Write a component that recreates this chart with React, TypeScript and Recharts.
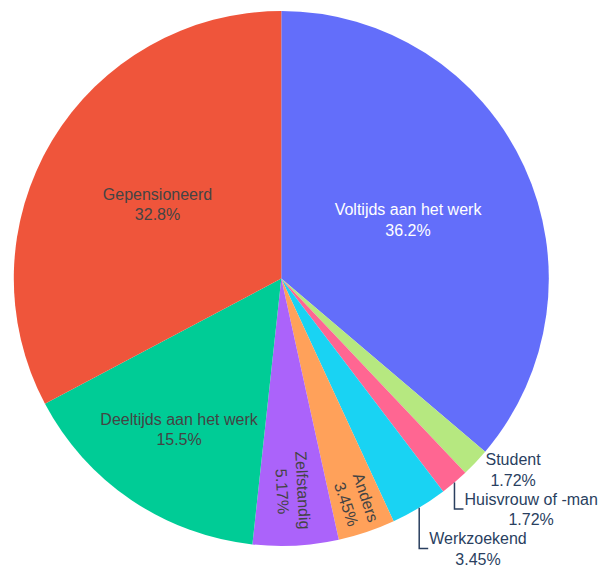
import { Cell, Pie, PieChart } from "recharts";

const categories = [
  "Voltijds aan het werk",
  "Student",
  "Huisvrouw of -man",
  "Werkzoekend",
  "Anders",
  "Zelfstandig",
  "Deeltijds aan het werk",
  "Gepensioneerd",
];
const counts = [21, 1, 1, 2, 2, 3, 9, 19];
const colors = ["#636efa", "#b6e880", "#ff6692", "#19d3f3", "#ffa15a", "#ab63fa", "#00cc96", "#ef553b"];

// how each slice label is laid out: inside (horizontal), radial (rotated), outside
const labelModes = ["inside", "outside", "outside", "outside", "radial", "radial", "inside", "inside"];
const labelRadius = [0.522, 1, 1, 1, 0.877, 0.795, 0.681, 0.54];
const labelColors = ["#ffffff", "#2a3f5f", "#2a3f5f", "#2a3f5f", "#444444", "#444444", "#444444", "#444444"];

const data = categories.map((name, i) => ({ name, value: counts[i] }));

const FONT = '"Liberation Sans", Arial, sans-serif';
const RAD = Math.PI / 180;

let ctx: CanvasRenderingContext2D | null = null;
const textWidth = (s: string) => {
  if (!ctx) ctx = document.createElement("canvas").getContext("2d");
  if (!ctx) return s.length * 8;
  ctx.font = `16px ${FONT}`;
  return ctx.measureText(s).width;
};

const outsideBaselines: Record<number, number> = {};

const renderLabel = (props: any) => {
  const { cx, cy, midAngle, outerRadius, index, name, percent } = props;
  const mode = labelModes[index];
  const pct = `${(percent * 100).toPrecision(3)}%`;
  const color = labelColors[index];

  if (mode === "outside") {
    const ax = cx + outerRadius * Math.cos(-midAngle * RAD);
    const ay = cy + outerRadius * Math.sin(-midAngle * RAD);
    const left = ax + 10;
    const natural = ay + 3;
    const prev = outsideBaselines[index - 1];
    const base = prev !== undefined && labelModes[index - 1] === "outside" ? Math.max(natural, prev + 39.5) : natural;
    outsideBaselines[index] = base;
    const w = Math.max(textWidth(name), textWidth(pct));
    const mx = left + w / 2;
    return (
      <g key={`lbl-${index}`}>
        {base > natural + 1 && (
          <path d={`M${ax},${ay}V${base + 4}H${left - 1}`} fill="none" stroke="#2a3f5f" strokeWidth={1.5} />
        )}
        <text x={mx} y={base} textAnchor="middle" fill={color} fontSize={16} fontFamily={FONT}>
          {name}
        </text>
        <text x={mx} y={base + 20.5} textAnchor="middle" fill={color} fontSize={16} fontFamily={FONT}>
          {pct}
        </text>
      </g>
    );
  }

  const r = outerRadius * labelRadius[index];
  const x = cx + r * Math.cos(-midAngle * RAD);
  const y = cy + r * Math.sin(-midAngle * RAD);
  const transform = mode === "radial" ? `rotate(${-midAngle}, ${x}, ${y})` : undefined;
  return (
    <g key={`lbl-${index}`} transform={transform}>
      <text x={x} y={y - 4.5} textAnchor="middle" fill={color} fontSize={16} fontFamily={FONT}>
        {name}
      </text>
      <text x={x} y={y + 16} textAnchor="middle" fill={color} fontSize={16} fontFamily={FONT}>
        {pct}
      </text>
    </g>
  );
};

export default function App() {
  return (
    <div style={{ position: "absolute", left: 0, top: 0, background: "#fff" }}>
      <PieChart width={613} height={572} margin={{ top: 0, right: 0, bottom: 0, left: 0 }}>
        <Pie
          data={data}
          dataKey="value"
          nameKey="name"
          cx={281.3}
          cy={278.5}
          outerRadius={267.5}
          startAngle={90}
          endAngle={-270}
          stroke="none"
          label={renderLabel}
          labelLine={false}
          isAnimationActive={false}
        >
          {data.map((d, i) => (
            <Cell key={d.name} fill={colors[i]} />
          ))}
        </Pie>
      </PieChart>
    </div>
  );
}
